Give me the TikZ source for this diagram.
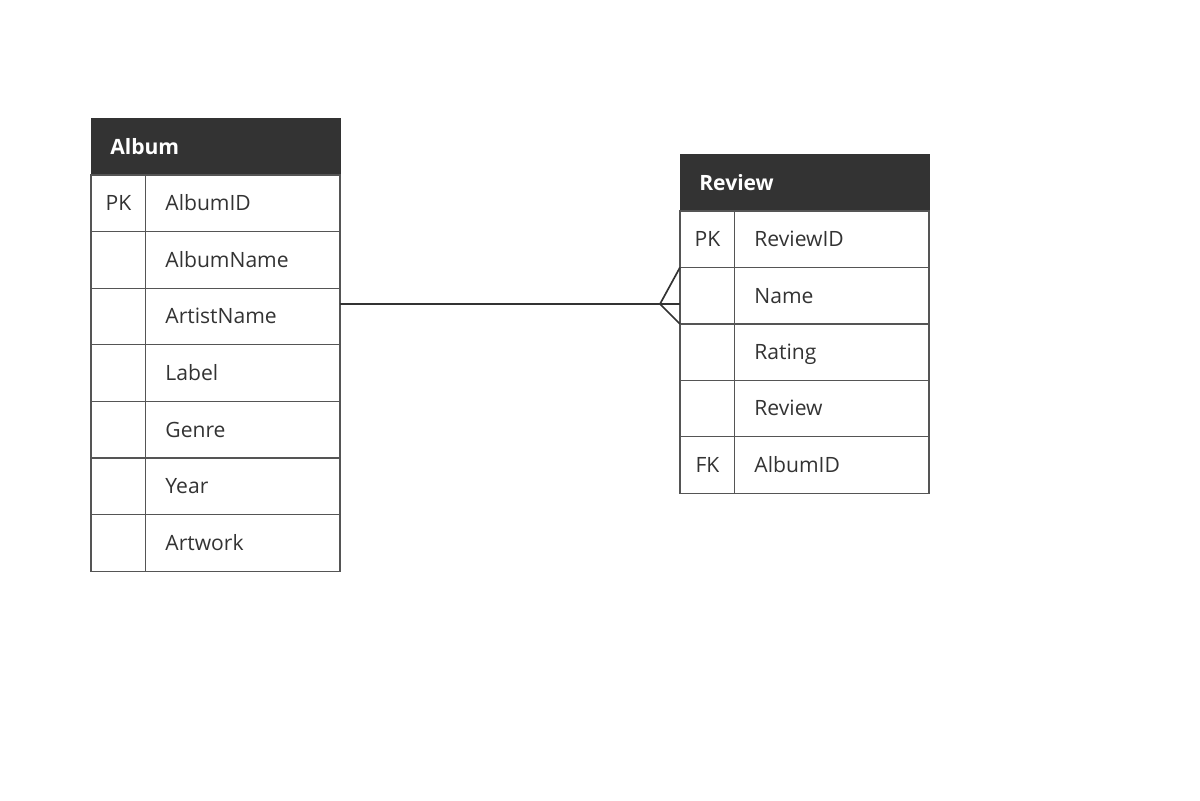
\documentclass[tikz,border=0pt]{standalone}
\usepackage{fontspec}
\setmainfont{Open Sans}
\usetikzlibrary{positioning}
\definecolor{hdr}{HTML}{333333}
\definecolor{rule}{HTML}{555555}

\begin{document}
\begin{tikzpicture}[
        x=0.025cm, y=-0.025cm,
        head/.style={fill=hdr, draw=hdr, text=white, minimum width=6.22cm, minimum height=1.425cm,
                text width=5.27cm, inner xsep=0.475cm, align=left, font=\fontsize{15}{18}\selectfont\bfseries},
        keycell/.style={draw=rule, line width=0.9pt, outer sep=0pt, minimum width=1.37cm, minimum height=1.414cm, inner sep=0pt,
                text height=12.5pt, text depth=2pt, text=hdr, font=\fontsize{15}{18}\selectfont},
        namecell/.style={draw=rule, line width=0.9pt, outer sep=0pt, minimum width=4.85cm, minimum height=1.414cm, text width=3.87cm,
                inner xsep=0.49cm, text height=12.5pt, text depth=2pt, align=left, text=hdr, font=\fontsize{15}{18}\selectfont},
        relation/.style={draw=hdr, line width=1.2pt}
    ]
    \useasboundingbox (0,0) rectangle (1200,800);

    % Album table (left)
    \node[head, anchor=north west] (albumhead) at (91,118) {Album};
    \foreach \k/\f [count=\i] in {PK/AlbumID,{}/AlbumName,{}/ArtistName,{}/Label,{}/Genre,{}/Year,{}/Artwork} {
            \node[keycell, anchor=north west] (albumk\i) at (91,{175+(\i-1)*56.6}) {\k};
            \node[namecell, anchor=north west] (albumf\i) at (albumk\i.north east) {\f};
        }

    % Review table (right)
    \node[head, anchor=north west] (reviewhead) at (680,154) {Review};
    \foreach \k/\f [count=\i] in {PK/ReviewID,{}/Name,{}/Rating,{}/Review,FK/AlbumID} {
            \node[keycell, anchor=north west] (reviewk\i) at (680,{211+(\i-1)*56.4}) {\k};
            \node[namecell, anchor=north west] (reviewf\i) at (reviewk\i.north east) {\f};
        }

    % One-to-many relation
    \coordinate (crow) at (660,304);
    \draw[relation] (albumf3.east |- crow) -- (reviewk2.west |- crow);
    \draw[relation] (reviewk2.north west) -- (crow) -- (reviewk2.south west);

\end{tikzpicture}
\end{document}
